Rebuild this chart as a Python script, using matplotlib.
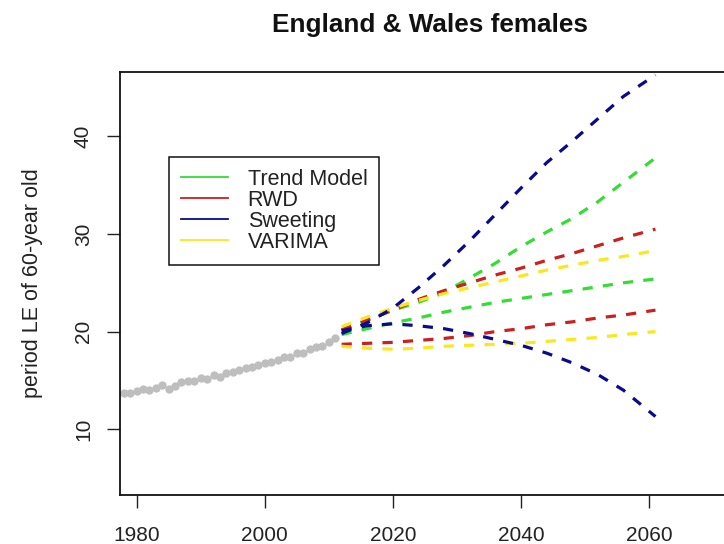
import matplotlib
matplotlib.use("Agg")
import matplotlib.pyplot as plt
from matplotlib.lines import Line2D

plt.rcParams['font.family'] = ['Liberation Sans', 'DejaVu Sans']

# ---- data ----
hist_years = list(range(1978, 2012))
hist_le = [13.7, 13.75, 13.9, 14.1, 14.0, 14.2, 14.5, 14.1, 14.4, 14.8,
           14.95, 14.9, 15.2, 15.15, 15.6, 15.4, 15.8, 15.9, 16.1, 16.25,
           16.35, 16.6, 16.8, 16.9, 17.1, 17.45, 17.45, 17.8, 17.85, 18.2,
           18.4, 18.5, 18.9, 19.3]

fc_years = [2012, 2016, 2020, 2024, 2028, 2032, 2036, 2040, 2044, 2048, 2052, 2056, 2061]

trend_upper = [20.1, 21.1, 22.2, 23.0, 24.0, 25.5, 27.0, 28.7, 30.2, 31.6, 33.3, 35.3, 37.8]
trend_lower = [19.7, 20.3, 20.9, 21.4, 22.0, 22.5, 23.0, 23.4, 23.8, 24.2, 24.6, 25.0, 25.4]
rwd_upper = [20.2, 21.2, 22.2, 23.3, 24.2, 25.0, 25.8, 26.5, 27.3, 28.0, 28.8, 29.6, 30.5]
rwd_lower = [18.7, 18.8, 18.9, 19.1, 19.3, 19.6, 20.0, 20.3, 20.7, 21.0, 21.4, 21.7, 22.2]
sweeting_upper = [19.8, 20.9, 22.4, 24.5, 26.8, 29.3, 32.0, 34.7, 37.3, 39.5, 41.8, 44.1, 46.3]
sweeting_lower = [20.1, 20.6, 20.8, 20.6, 20.3, 19.8, 19.2, 18.6, 17.8, 16.8, 15.6, 14.0, 11.3]
varima_upper = [20.5, 21.5, 22.4, 23.2, 23.9, 24.5, 25.1, 25.7, 26.3, 26.8, 27.3, 27.7, 28.3]
varima_lower = [18.5, 18.3, 18.2, 18.3, 18.5, 18.6, 18.7, 18.8, 19.0, 19.2, 19.4, 19.7, 20.0]

models = ["Trend Model", "RWD", "Sweeting", "VARIMA"]
colors = ["#33dd33", "#cc1f1f", "#0a0a8c", "#f8e81c"]

x_ticks = [1980, 2000, 2020, 2040, 2060]
y_ticks = [10, 20, 30, 40]

# ---- figure ----
fig = plt.figure(figsize=(7.24, 5.44), dpi=100)
W, H = 724, 544
left_px, right_px, top_px, bottom_px = 120, 740, 72, 495
ax = fig.add_axes([left_px / W, 1 - bottom_px / H, (right_px - left_px) / W, (bottom_px - top_px) / H])

ax.plot(hist_years, hist_le, linestyle='none', marker='o', markersize=6.0,
        color='#BEBEBE', markeredgewidth=0)

dash = (0, (3.2, 3.2))
lw = 2.3
series = [
    (trend_upper, colors[0]), (trend_lower, colors[0]),
    (rwd_upper, colors[1]), (rwd_lower, colors[1]),
    (varima_upper, colors[3]), (varima_lower, colors[3]),
    (sweeting_upper, colors[2]), (sweeting_lower, colors[2]),
]
for vals, c in series:
    ax.plot(fc_years, vals, color=c, lw=lw, linestyle=dash)

ax.set_xlim(1977.4, 2074.2)
ax.set_ylim(3.26, 46.6)
ax.set_xticks(x_ticks)
ax.set_yticks(y_ticks)
ax.set_xticklabels([str(v) for v in x_ticks], fontsize=15)
ax.set_yticklabels([str(v) for v in y_ticks], fontsize=15, rotation=90, va='center')
ax.tick_params(axis='both', length=9.5, width=1.0, color='#222222', labelcolor='#222222')
ax.tick_params(axis='x', pad=13)
ax.tick_params(axis='y', pad=10)
for s in ['left', 'bottom', 'top', 'right']:
    ax.spines[s].set_linewidth(1.3)
    ax.spines[s].set_color('#111111')

ax.set_title("England & Wales females", fontsize=18.8, fontweight='bold', pad=29, color='#111111')
fig.text(33 / W, 1 - 283 / H, "period LE of 60-year old", rotation=90,
         ha='center', va='center', fontsize=15.5, color='#222222')

handles = [Line2D([], [], color=c, lw=1.3) for c in colors]
leg = ax.legend(handles, models, loc='upper left',
                bbox_to_anchor=(169 / W, 1 - 157 / H), bbox_transform=fig.transFigure,
                borderaxespad=0, fontsize=15.5, frameon=True, fancybox=False,
                framealpha=1, edgecolor='#111111', borderpad=0.55,
                handlelength=2.2, handletextpad=0.9, labelspacing=0.0)
leg.get_frame().set_linewidth(1.1)
for t in leg.get_texts():
    t.set_color('#222222')

fig.savefig("out.png", dpi=100)
